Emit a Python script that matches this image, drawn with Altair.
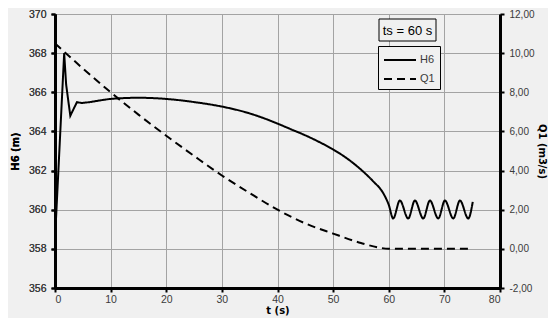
import altair as alt
import pandas as pd

# ---- data ----
# H6: sharp start-up transient (straight segments)
t_h6_start = [0, 1.65, 2.0, 2.75, 3.95, 4.8, 6.3]
h6_start = [358.5, 368.0, 366.4, 364.8, 365.5, 365.45, 365.5]
# H6: smooth part and oscillation
t_h6 = [6.3, 8, 10, 15, 20, 25, 30, 35, 37.5, 40, 42.5, 45, 47.5, 50, 52.5, 55,
        57.2, 59, 60, 60.8, 62.0, 63.5, 64.7, 66.2, 67.4, 68.9, 70.1, 71.6, 72.8, 74.3, 75.1]
h6 = [365.5, 365.58, 365.66, 365.72, 365.66, 365.5, 365.27, 364.92, 364.68, 364.4, 364.1,
      363.8, 363.46, 363.08, 362.62, 362.05, 361.45, 360.85, 360.25, 359.55,
      360.47, 359.55, 360.47, 359.55, 360.47, 359.55, 360.47, 359.55, 360.47, 359.55, 360.4]

t_q1 = [0, 5, 10, 15, 20, 25, 30, 35, 40, 45, 50, 55, 58, 60, 65, 70, 75]
q1 = [10.5, 9.22, 8.0, 6.86, 5.78, 4.75, 3.75, 2.85, 2.0, 1.3, 0.78, 0.3, 0.08, 0.0, 0.0, 0.0, 0.0]

x_ticks = [0, 10, 20, 30, 40, 50, 60, 70, 80]
h6_ticks = [356, 358, 360, 362, 364, 366, 368, 370]
q1_ticks = [-2, 0, 2, 4, 6, 8, 10, 12]
series_names = ["H6", "Q1"]
note = ["ts = 60 s"]

BG = "#f0f0f0"
FONT = "DejaVu Sans"
TICK_FONT = "Liberation Sans"
LABEL_COLOR = "#3a3a3a"

df_h0 = pd.DataFrame({"t": t_h6_start, "value": h6_start, "series": series_names[0]})
df_h = pd.DataFrame({"t": t_h6, "value": h6, "series": series_names[0]})
df_q = pd.DataFrame({"t": t_q1, "value": q1, "series": series_names[1]})

dash_scale = alt.Scale(domain=series_names, range=[[1, 0], [8, 5]])
legend = alt.Legend(
    title=None, orient="none", legendX=323, legendY=32,
    symbolType="M-1,0H3", symbolSize=256, symbolStrokeWidth=2,
    symbolStrokeColor="black", symbolFillColor="transparent",
    strokeColor="black", fillColor=BG,
    padding=5, rowPadding=5, labelFont=TICK_FONT, labelFontSize=11,
    labelColor=LABEL_COLOR, labelOffset=19,
)

x_enc = alt.X(
    "t:Q",
    scale=alt.Scale(domain=[0, 80], nice=False),
    axis=alt.Axis(values=x_ticks, title="t (s)", grid=True, labelPadding=2, titlePadding=1),
)

y_h = alt.Y(
    "value:Q",
    scale=alt.Scale(domain=[356, 370], nice=False, zero=False),
    axis=alt.Axis(values=h6_ticks, title="H6 (m)", orient="left", grid=True,
                  labelPadding=5, titlePadding=8),
)
dash_enc = alt.StrokeDash("series:N", scale=dash_scale, legend=legend)

h_start = alt.Chart(df_h0).mark_line(color="black", strokeWidth=2).encode(
    x=x_enc, y=y_h, strokeDash=dash_enc
)
h_line = alt.Chart(df_h).mark_line(color="black", strokeWidth=2, interpolate="monotone").encode(
    x=x_enc, y=y_h, strokeDash=dash_enc
)

q_line = alt.Chart(df_q).mark_line(color="black", strokeWidth=2, interpolate="monotone").encode(
    x=x_enc,
    y=alt.Y(
        "value:Q",
        scale=alt.Scale(domain=[-2, 12], nice=False, zero=False),
        axis=alt.Axis(
            values=q1_ticks, title="Q1 (m3/s)", orient="right", grid=False,
            labelPadding=5, titlePadding=2, labelFontSize=10,
            labelExpr="replace(replace(format(datum.value, '.2f'), '.', ','), '\u2212', '-')",
        ),
    ),
    strokeDash=dash_enc,
)

note_df = pd.DataFrame({"label": note})
box = alt.Chart(note_df).mark_rect(fill=BG, stroke="black", strokeWidth=1).encode(
    x=alt.value(324), x2=alt.value(381), y=alt.value(5), y2=alt.value(27)
)
txt = alt.Chart(note_df).mark_text(font="Liberation Sans", fontSize=13, color="black").encode(
    x=alt.value(352.5), y=alt.value(16.5), text="label:N"
)

chart = (
    alt.layer(h_start, h_line, q_line, box, txt)
    .resolve_scale(y="independent")
    .properties(
        width=445, height=274,
        autosize=alt.AutoSizeParams(type="none"),
        padding={"left": 47, "top": 6, "right": 48, "bottom": 30},
    )
    .configure(background=BG)
    .configure_view(stroke=None)
    .configure_axis(
        domainColor="black", domainWidth=3, tickColor="black", tickWidth=2, tickSize=4,
        gridColor="#a3a3a3", gridWidth=1,
        labelFont=TICK_FONT, labelFontSize=10.5, labelColor=LABEL_COLOR,
        titleFont=FONT, titleFontSize=10, titleFontWeight="bold", titleColor="black",
    )
)

chart.save("out.html", embed_options={"renderer": "svg", "actions": False})
